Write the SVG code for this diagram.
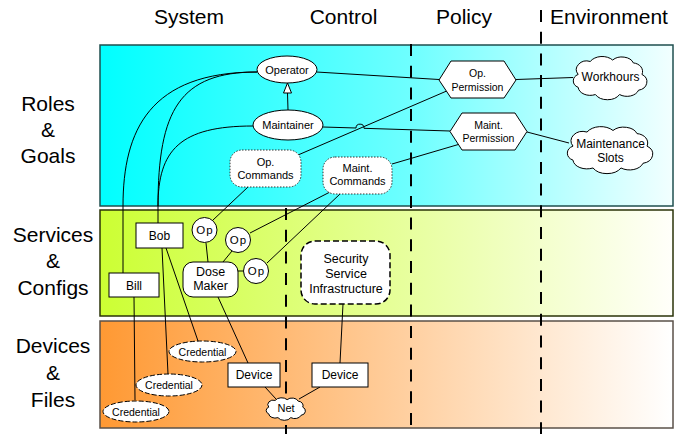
<svg xmlns="http://www.w3.org/2000/svg" xmlns:xlink="http://www.w3.org/1999/xlink" width="688" height="434" viewBox="0 0 688 434">
  <defs>
    <linearGradient id="gRoles" x1="0" y1="0" x2="1" y2="0">
      <stop offset="0" stop-color="#00FFFF"/>
      <stop offset="0.55" stop-color="#70FFFF"/>
      <stop offset="1" stop-color="#F2FFFF"/>
    </linearGradient>
    <linearGradient id="gServices" x1="0" y1="0" x2="1" y2="0">
      <stop offset="0" stop-color="#CCFF33"/>
      <stop offset="1" stop-color="#FFFFFA"/>
    </linearGradient>
    <linearGradient id="gDevices" x1="0" y1="0" x2="1" y2="0">
      <stop offset="0" stop-color="#FF9933"/>
      <stop offset="1" stop-color="#FFFFFF"/>
    </linearGradient>
    <symbol id="cloud" viewBox="-44 -35 87 64" preserveAspectRatio="none" overflow="visible">
      <path vector-effect="non-scaling-stroke" d="M -38,-8 a 12,12 0 0 1 14,-18 a 16,14 0 0 1 26,-2 a 14,12 0 0 1 24,4 a 12,12 0 0 1 10,16 a 12,12 0 0 1 -4,22 a 14,12 0 0 1 -22,6 a 16,14 0 0 1 -28,0 a 14,12 0 0 1 -20,-10 a 10,10 0 0 1 0,-18 z"/>
    </symbol>
  </defs>
  <style>
    text { font-family: "Liberation Sans", Arial, sans-serif; fill: #000; stroke: none; text-anchor: middle; }
    .hdr { font-size: 21px; }
    .lbl { font-size: 21px; }
    .n11 { font-size: 11px; }
    .n105 { font-size: 10.5px; }
    .n12 { font-size: 12px; }
    .n125 { font-size: 12.5px; }
    .op { font-size: 11.5px; letter-spacing: 1.2px; }
    .node { fill: #fff; stroke: #000; stroke-width: 1; }
    .dotted { fill: #fff; stroke: #333; stroke-width: 1; stroke-dasharray: 1.5 1.5; }
    .dashbox { fill: #fff; stroke: #000; stroke-width: 1.5; stroke-dasharray: 6 3; }
    .cred { fill: #fff; stroke: #000; stroke-width: 1; stroke-dasharray: 5 2; }
    .cloud { fill: #fff; stroke: #000; stroke-width: 1; }
    .edge { fill: none; stroke: #000; stroke-width: 1; }
    .divider { fill: none; stroke: #000; stroke-width: 2; stroke-dasharray: 12 9.7; }
  </style>

  <!-- swimlane bands -->
  <g id="bands">
    <rect x="100" y="45" width="573" height="161" fill="url(#gRoles)" stroke="#1f4f4f" stroke-width="1.5"/>
    <rect x="100" y="210" width="573" height="106" fill="url(#gServices)" stroke="#2a3308" stroke-width="1.5"/>
    <rect x="100" y="321" width="573" height="107" fill="url(#gDevices)" stroke="#5a5048" stroke-width="1.5"/>
  </g>

  <!-- column headers and lane titles -->
  <g id="headers">
    <text class="hdr" x="189" y="24">System</text>
    <text class="hdr" x="343.5" y="24">Control</text>
    <text class="hdr" x="464" y="24">Policy</text>
    <text class="hdr" x="609" y="24">Environment</text>
  </g>
  <g id="lane-titles">
    <text class="lbl" x="48" y="111">Roles</text>
    <text class="lbl" x="48" y="137">&amp;</text>
    <text class="lbl" x="48" y="163">Goals</text>
    <text class="lbl" x="53" y="242">Services</text>
    <text class="lbl" x="53" y="268">&amp;</text>
    <text class="lbl" x="53" y="295">Configs</text>
    <text class="lbl" x="53" y="353">Devices</text>
    <text class="lbl" x="53" y="380">&amp;</text>
    <text class="lbl" x="53" y="407">Files</text>
  </g>

  <!-- column dividers -->
  <g id="dividers">
    <line class="divider" x1="286" y1="208" x2="286" y2="434"/>
    <line class="divider" x1="411" y1="44" x2="411" y2="434"/>
    <line class="divider" x1="541" y1="10" x2="541" y2="434"/>
  </g>

  <!-- connectors -->
  <g id="connectors">
    <path class="edge" d="M257,72 C150,72 123,130 123,206 L123,273"/>
    <path class="edge" d="M257,72 C180,72 158,110 158,206 L158,223"/>
    <path class="edge" d="M253,126 C180,126 158,150 158,206"/>
    <line class="edge" x1="288" y1="110" x2="287.5" y2="93"/>
    <polygon points="287.5,83 283.5,93 291.5,93" fill="#fff" stroke="#000" stroke-width="1"/>
    <line class="edge" x1="316.5" y1="72" x2="439" y2="79.5"/>
    <line class="edge" x1="516" y1="79.5" x2="573" y2="77.5"/>
    <path class="edge" d="M323,127 L356,128 A4,4 0 0 1 364,128.3 L450,131"/>
    <line class="edge" x1="527" y1="132" x2="569" y2="143"/>
    <line class="edge" x1="298" y1="155" x2="449" y2="90"/>
    <line class="edge" x1="392" y1="164" x2="460" y2="144"/>
    <line class="edge" x1="248" y1="187" x2="213" y2="220"/>
    <line class="edge" x1="330" y1="192" x2="250" y2="233"/>
    <line class="edge" x1="340" y1="194" x2="267" y2="263"/>
    <line class="edge" x1="206" y1="243" x2="208" y2="262"/>
    <line class="edge" x1="232" y1="251" x2="223" y2="262"/>
    <line class="edge" x1="243" y1="271" x2="238" y2="271"/>
    <line class="edge" x1="162" y1="248" x2="168" y2="374"/>
    <line class="edge" x1="166" y1="248" x2="198" y2="341"/>
    <line class="edge" x1="134" y1="297" x2="135" y2="400"/>
    <line class="edge" x1="218" y1="297" x2="248" y2="363"/>
    <line class="edge" x1="343" y1="304" x2="340" y2="363"/>
    <line class="edge" x1="265" y1="387" x2="276" y2="399"/>
    <line class="edge" x1="320" y1="387" x2="299" y2="399"/>
  </g>

  <!-- roles & goals -->
  <g id="operator">
    <ellipse class="node" cx="287" cy="69.5" rx="30" ry="13.5"/>
    <text class="n11" x="287" y="73.5">Operator</text>
  </g>
  <g id="maintainer">
    <ellipse class="node" cx="288" cy="125" rx="35" ry="15"/>
    <text class="n11" x="288" y="129">Maintainer</text>
  </g>
  <g id="op-commands">
    <rect class="dotted" x="230" y="150" width="71" height="37" rx="12"/>
    <text class="n11" x="265.5" y="166">Op.</text>
    <text class="n11" x="265.5" y="179">Commands</text>
  </g>
  <g id="maint-commands">
    <rect class="dotted" x="323" y="157" width="69" height="37" rx="12"/>
    <text class="n11" x="357.5" y="172">Maint.</text>
    <text class="n11" x="357.5" y="185">Commands</text>
  </g>
  <g id="op-permission">
    <polygon class="node" points="439,80 451,61 504,61 516,80 504,98 451,98"/>
    <text class="n105" x="477.5" y="77">Op.</text>
    <text class="n105" x="477.5" y="90.5">Permission</text>
  </g>
  <g id="maint-permission">
    <polygon class="node" points="450,131.5 462,113 515,113 527,131.5 515,150 462,150"/>
    <text class="n105" x="488.5" y="129">Maint.</text>
    <text class="n105" x="488.5" y="142">Permission</text>
  </g>
  <g id="workhours">
    <use class="cloud" xlink:href="#cloud" href="#cloud" x="573" y="55" width="75" height="46"/>
    <text class="n12" x="610.5" y="81">Workhours</text>
  </g>
  <g id="maintenance-slots">
    <use class="cloud" xlink:href="#cloud" href="#cloud" x="567" y="125" width="87" height="50"/>
    <text class="n12" x="610.5" y="148">Maintenance</text>
    <text class="n12" x="610.5" y="161.5">Slots</text>
  </g>

  <!-- services & configs -->
  <g id="bob">
    <rect class="node" x="136" y="223" width="47" height="25"/>
    <text class="n12" x="159.5" y="240">Bob</text>
  </g>
  <g id="bill">
    <rect class="node" x="109" y="273" width="50" height="24"/>
    <text class="n12" x="134" y="289.5">Bill</text>
  </g>
  <g id="op-1">
    <circle class="node" cx="204.5" cy="230" r="12.5"/>
    <text class="op" x="205" y="234">Op</text>
  </g>
  <g id="op-2">
    <circle class="node" cx="238" cy="240" r="12.5"/>
    <text class="op" x="238.5" y="244">Op</text>
  </g>
  <g id="op-3">
    <circle class="node" cx="256" cy="271" r="12.5"/>
    <text class="op" x="256.5" y="275">Op</text>
  </g>
  <g id="dose-maker">
    <rect class="node" x="183" y="262" width="55" height="35" rx="10"/>
    <text class="n125" x="210.5" y="276">Dose</text>
    <text class="n125" x="210.5" y="290">Maker</text>
  </g>
  <g id="security-service">
    <rect class="dashbox" x="301" y="241" width="89" height="63" rx="14"/>
    <text class="n125" x="346" y="262.5">Security</text>
    <text class="n125" x="346" y="277.5">Service</text>
    <text class="n125" x="346" y="292.5">Infrastructure</text>
  </g>

  <!-- devices & files -->
  <g id="credential-1">
    <ellipse class="cred" cx="202.5" cy="351.5" rx="33.5" ry="10.5"/>
    <text class="n105" x="202.5" y="355.5">Credential</text>
  </g>
  <g id="credential-2">
    <ellipse class="cred" cx="169" cy="385" rx="33" ry="11"/>
    <text class="n105" x="169" y="389">Credential</text>
  </g>
  <g id="credential-3">
    <ellipse class="cred" cx="136" cy="411.5" rx="33" ry="10.5"/>
    <text class="n105" x="136" y="415.5">Credential</text>
  </g>
  <g id="device-1">
    <rect class="node" x="228" y="363" width="52" height="24"/>
    <text class="n12" x="254" y="379">Device</text>
  </g>
  <g id="device-2">
    <rect class="node" x="312" y="363" width="56" height="24"/>
    <text class="n12" x="340" y="379">Device</text>
  </g>
  <g id="net">
    <use class="cloud" xlink:href="#cloud" href="#cloud" x="266" y="397" width="40" height="24"/>
    <text class="n11" x="286" y="412">Net</text>
  </g>
</svg>
